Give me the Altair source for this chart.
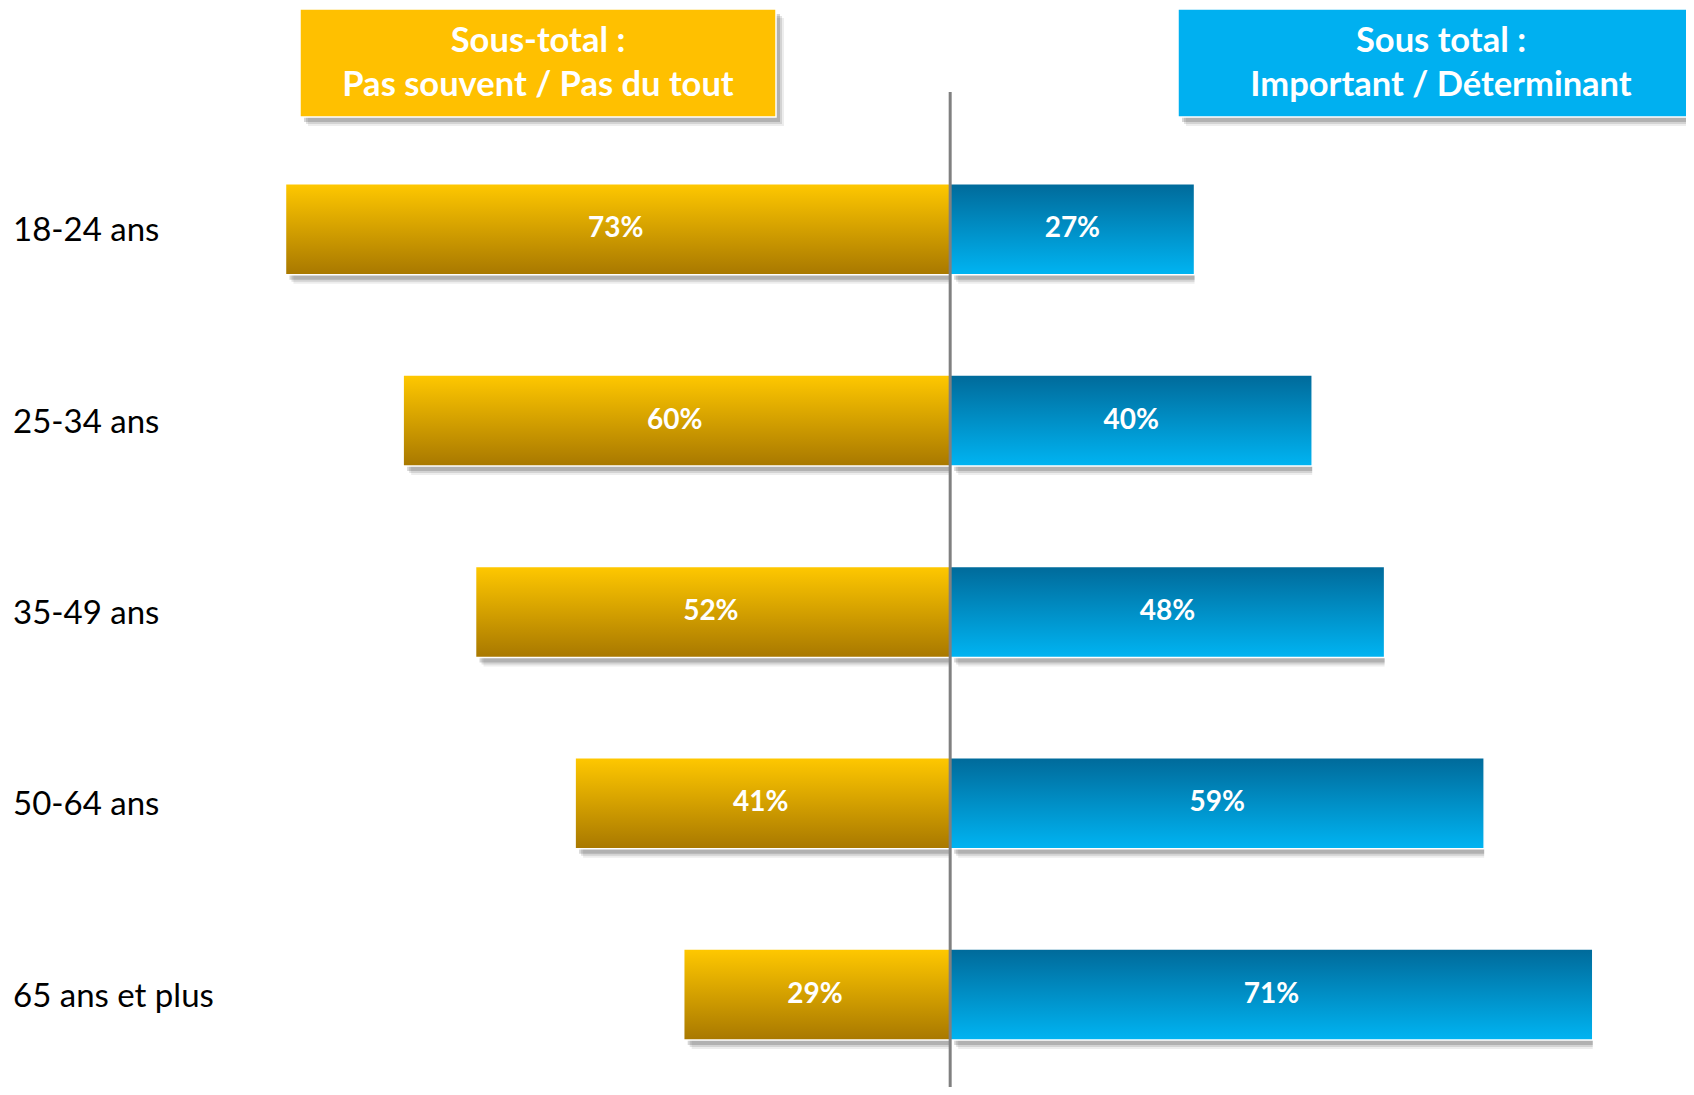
import altair as alt
import pandas as pd

ages = ["18-24 ans", "25-34 ans", "35-49 ans", "50-64 ans", "65 ans et plus"]
pas_souvent = [73, 60, 52, 41, 29]
important = [27, 40, 48, 59, 71]
header_left = "Sous-total :\nPas souvent / Pas du tout"
header_right = "Sous total :\nImportant / Déterminant"

df = pd.DataFrame({
    "age": ages,
    "i": list(range(len(ages))),
    "pas": pas_souvent,
    "imp": important,
})
df["neg"] = -df["pas"]
df["zero"] = 0
df["pas_mid"] = -df["pas"] / 2
df["imp_mid"] = df["imp"] / 2
df["pas_lbl"] = df["pas"].astype(str) + "%"
df["imp_lbl"] = df["imp"].astype(str) + "%"

W, H = 1678, 1079
xs = alt.Scale(domain=[-104.1, 81.3], nice=False, zero=False)
ys = alt.Scale(domain=[-1.1297, 4.4566], nice=False, zero=False, reverse=True)

gold = {"gradient": "linear", "x1": 0, "x2": 0, "y1": 0, "y2": 1,
        "stops": [{"offset": 0, "color": "#FFC800"}, {"offset": 1, "color": "#A87800"}]}
blue = {"gradient": "linear", "x1": 0, "x2": 0, "y1": 0, "y2": 1,
        "stops": [{"offset": 0, "color": "#006A9A"}, {"offset": 1, "color": "#00B4F2"}]}

base = alt.Chart(df)
Y = alt.Y("i:Q", scale=ys, axis=None)
BAR = 91
GOFF = -4

shadow_steps = [(8, 9, 0.07), (6, 7, 0.11), (4, 5, 0.16)]

layers = []
for dx, dy, op in shadow_steps:
    layers.append(base.mark_bar(size=BAR, color="#000000", opacity=op, xOffset=dx + GOFF, yOffset=dy).encode(
        x=alt.X("neg:Q", scale=xs, axis=None), x2="zero:Q", y=Y))
    layers.append(base.mark_bar(size=BAR, color="#000000", opacity=op, xOffset=dx, yOffset=dy).encode(
        x=alt.X("zero:Q", scale=xs, axis=None), x2="imp:Q", y=Y))

layers.append(base.mark_bar(size=BAR, color=gold, stroke="white", strokeWidth=1.5, xOffset=GOFF).encode(
    x=alt.X("neg:Q", scale=xs, axis=None), x2="zero:Q", y=Y))
layers.append(base.mark_bar(size=BAR, color=blue, stroke="white", strokeWidth=1.5).encode(
    x=alt.X("zero:Q", scale=xs, axis=None), x2="imp:Q", y=Y))

lbl = dict(font="Lato", fontSize=28, fontWeight="bold", color="white", align="center", baseline="middle")
layers.append(base.mark_text(xOffset=GOFF, **lbl).encode(
    x=alt.X("pas_mid:Q", scale=xs, axis=None), y=Y, text="pas_lbl:N"))
layers.append(base.mark_text(**lbl).encode(
    x=alt.X("imp_mid:Q", scale=xs, axis=None), y=Y, text="imp_lbl:N"))

# category labels
layers.append(base.mark_text(font="Lato", fontSize=33, color="black", align="left", baseline="middle",
                             yOffset=2).encode(x=alt.value(5), y=Y, text="age:N"))

# divider
layers.append(alt.Chart(pd.DataFrame({"zero": [0]})).mark_rule(color="#808080", strokeWidth=3).encode(
    x=alt.X("zero:Q", scale=xs, axis=None), y=alt.value(84), y2=alt.value(H)))

# headers
hd = alt.Chart(pd.DataFrame({"left": [header_left], "right": [header_right]}))
for (x1, x2, col) in [(292, 768, "#FFC000"), (1170, 1690, "#00B0F0")]:
    for dx, dy, op in shadow_steps:
        layers.append(hd.mark_rect(color="#000000", opacity=op).encode(
            x=alt.value(x1 + dx), x2=alt.value(x2 + dx), y=alt.value(1 + dy), y2=alt.value(109 + dy)))
    layers.append(hd.mark_rect(color=col, stroke="white", strokeWidth=1.5).encode(
        x=alt.value(x1), x2=alt.value(x2), y=alt.value(1), y2=alt.value(109)))

htxt = dict(font="Lato", fontSize=34.5, fontWeight="bold", color="white", align="center",
            baseline="middle", lineBreak="\n", lineHeight=44)
layers.append(hd.mark_text(**htxt).encode(x=alt.value(530), y=alt.value(34), text="left:N"))
layers.append(hd.mark_text(**htxt).encode(x=alt.value(1433), y=alt.value(34), text="right:N"))

chart = alt.layer(*layers).properties(
    width=W, height=H, autosize=alt.AutoSizeParams(type="none"), padding=0
).configure_view(stroke=None)

chart.save("out.html", embed_options={"renderer": "svg", "actions": False})
